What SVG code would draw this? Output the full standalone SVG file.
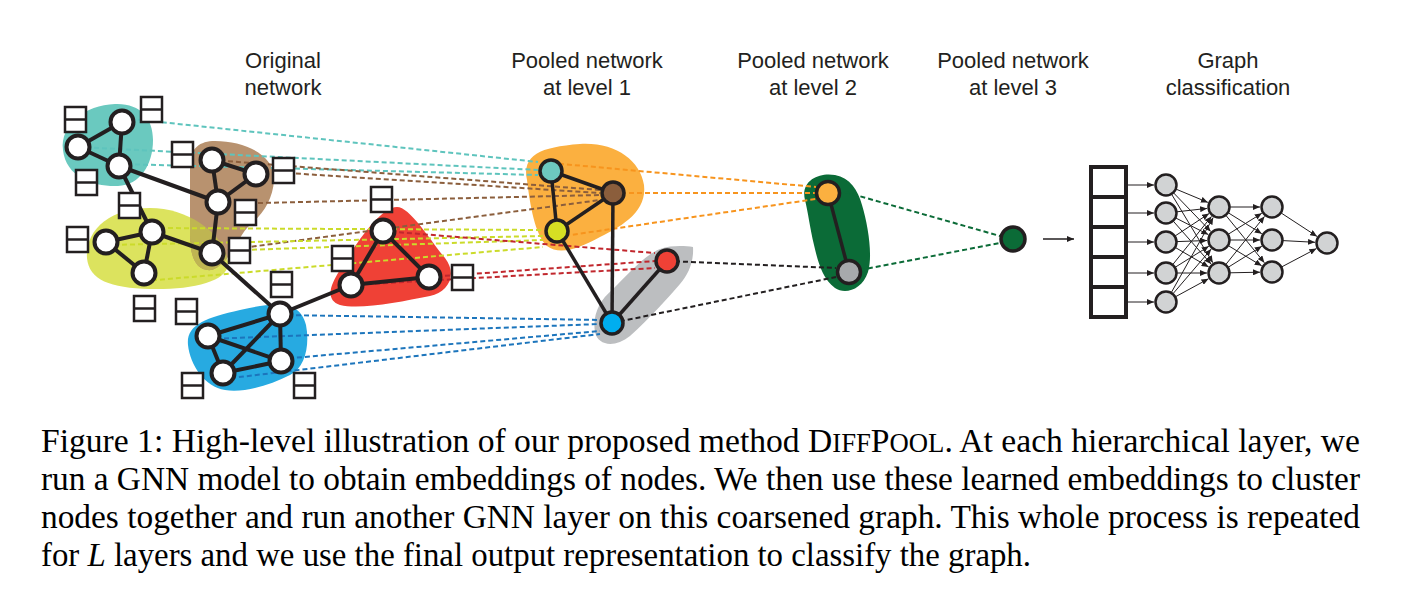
<svg xmlns="http://www.w3.org/2000/svg" width="1405" height="600" viewBox="0 0 1405 600">
<style>
.ttl{font-family:"Liberation Sans",Arial,sans-serif;font-size:22px;fill:#231f20;text-anchor:middle}
.cap{font-family:"Liberation Serif","Times New Roman",serif;font-size:34px;fill:#000}
.e{stroke:#231f20;stroke-width:4;fill:none}
.pe{stroke:#231f20;stroke-width:3.5;fill:none}
.wn{fill:#fff;stroke:#231f20;stroke-width:4}
.pn{stroke:#231f20;stroke-width:3.5}
.d{fill:none;stroke-width:2;stroke-dasharray:5 3}
.cn{fill:#d1d3d4;stroke:#231f20;stroke-width:2.5}
.ca{stroke:#231f20;stroke-width:1;fill:none;marker-end:url(#ah)}
.bx rect{fill:#fff;stroke:#231f20;stroke-width:2.5}
.bx line{stroke:#231f20;stroke-width:2.5}
</style>
<defs>
<marker id="ah" markerUnits="userSpaceOnUse" markerWidth="8" markerHeight="6" refX="7" refY="3" orient="auto">
<path d="M0,0 L7,3 L0,6 z" fill="#231f20"/>
</marker>
<g id="box" class="bx"><rect x="0" y="0" width="21" height="25"/><line x1="0" y1="12.5" x2="21" y2="12.5"/></g>
<clipPath id="yclip"><path d="M87,258 C85,230 110,208 150,208 C190,208 225,235 228,262 C230,282 190,290 150,289 C110,288 89,280 87,258 Z"/></clipPath>
</defs>
<rect width="1405" height="600" fill="#fff"/>

<g id="titles">
<text class="ttl" x="283" y="68">Original</text>
<text class="ttl" x="283" y="95">network</text>
<text class="ttl" x="587" y="68">Pooled network</text>
<text class="ttl" x="587" y="95">at level 1</text>
<text class="ttl" x="813" y="68">Pooled network</text>
<text class="ttl" x="813" y="95">at level 2</text>
<text class="ttl" x="1013" y="68">Pooled network</text>
<text class="ttl" x="1013" y="95">at level 3</text>
<text class="ttl" x="1228" y="68">Graph</text>
<text class="ttl" x="1228" y="95">classification</text>
</g>

<g id="clusters">
<path id="c-teal" d="M63,150 C60,125 85,105 115,104 C140,103 153,118 153,140 C153,165 140,185 118,186 C95,187 66,178 63,150 Z" fill="#6ac9bf"/>
<path id="c-yellow" d="M87,258 C85,230 110,208 150,208 C190,208 225,235 228,262 C230,282 190,290 150,289 C110,288 89,280 87,258 Z" fill="#dce35e"/>
<path id="c-brown" d="M190,165 C190,148 200,141 215,141 C245,141 275,155 274,180 C273,200 262,215 250,225 C238,235 232,262 212,270 C195,272 190,255 190,235 Z" fill="#b8926f"/>
<path d="M190,165 C190,148 200,141 215,141 C245,141 275,155 274,180 C273,200 262,215 250,225 C238,235 232,262 212,270 C195,272 190,255 190,235 Z" fill="#bfb552" clip-path="url(#yclip)"/>
<path id="c-red" d="M397,207 C410,207 430,240 445,258 C458,275 448,292 430,296 C400,302 360,310 340,305 C325,300 330,285 340,270 C355,245 380,207 397,207 Z" fill="#ef4136"/>
<path id="c-blue" d="M188,345 C186,325 205,318 240,310 C275,302 300,300 306,325 C310,345 305,368 290,375 C270,385 245,393 225,390 C205,387 190,365 188,345 Z" fill="#27aae1"/>
<path id="c-orange" d="M527,180 C522,155 540,147 580,144 C615,142 640,160 644,185 C647,210 625,225 600,237 C580,248 560,256 547,246 C535,235 530,205 527,180 Z" fill="#fbb040"/>
<path id="c-gray" d="M693,247 C694,262 688,275 680,284 C668,298 650,318 630,336 C615,348 598,346 595,332 C592,315 600,300 612,290 C630,272 645,255 660,249 C672,245 685,246 693,247 Z" fill="#bcbec0"/>
<path id="c-green" d="M805,200 C800,180 820,172 835,175 C850,178 858,190 862,205 C868,225 873,255 868,272 C862,290 845,295 835,288 C822,278 818,262 814,245 C810,228 808,212 805,200 Z" fill="#0b6b37"/>
</g>

<g id="connectors">
<g stroke="#5ec4bd">
<line class="d" x1="122" y1="118" x2="538" y2="162"/>
<line class="d" x1="78" y1="147" x2="538" y2="170"/>
<line class="d" x1="119" y1="164" x2="538" y2="175"/>
</g>
<g stroke="#8b5e3c">
<line class="d" x1="212" y1="160" x2="600" y2="190"/>
<line class="d" x1="256" y1="171" x2="600" y2="193"/>
<line class="d" x1="218" y1="204" x2="600" y2="195"/>
<line class="d" x1="212" y1="252" x2="600" y2="200"/>
</g>
<g stroke="#cbdb2a">
<line class="d" x1="152" y1="228" x2="543" y2="230"/>
<line class="d" x1="106" y1="245" x2="543" y2="236"/>
<line class="d" x1="212" y1="251" x2="543" y2="240"/>
<line class="d" x1="144" y1="281" x2="543" y2="247"/>
</g>
<g stroke="#c1272d">
<line class="d" x1="383" y1="231" x2="655" y2="253"/>
<line class="d" x1="429" y1="277" x2="655" y2="261"/>
<line class="d" x1="351" y1="285" x2="655" y2="268"/>
</g>
<g stroke="#1c75bc">
<line class="d" x1="280" y1="315" x2="600" y2="320"/>
<line class="d" x1="208" y1="339" x2="600" y2="324"/>
<line class="d" x1="281" y1="359" x2="600" y2="331"/>
<line class="d" x1="223" y1="379" x2="600" y2="334"/>
</g>
<g stroke="#f7941d">
<line class="d" x1="551" y1="163" x2="816" y2="187"/>
<line class="d" x1="613" y1="193" x2="816" y2="193"/>
<line class="d" x1="557" y1="237" x2="816" y2="199"/>
</g>
<g stroke="#231f20">
<line class="d" x1="667" y1="261" x2="836" y2="268"/>
<line class="d" x1="612" y1="323" x2="836" y2="277"/>
</g>
<g stroke="#0b6b37">
<line class="d" x1="845" y1="192" x2="1000" y2="236"/>
<line class="d" x1="860" y1="270" x2="1000" y2="243"/>
</g>
<g id="orig-edges">
<line class="e" x1="122" y1="122" x2="78" y2="147"/>
<line class="e" x1="122" y1="122" x2="119" y2="166"/>
<line class="e" x1="78" y1="147" x2="119" y2="166"/>
<line class="e" x1="119" y1="166" x2="218" y2="202"/>
<line class="e" x1="119" y1="166" x2="152" y2="232"/>
<line class="e" x1="212" y1="160" x2="256" y2="174"/>
<line class="e" x1="212" y1="160" x2="218" y2="202"/>
<line class="e" x1="256" y1="174" x2="218" y2="202"/>
<line class="e" x1="218" y1="202" x2="212" y2="253"/>
<line class="e" x1="106" y1="242" x2="152" y2="232"/>
<line class="e" x1="106" y1="242" x2="144" y2="273"/>
<line class="e" x1="152" y1="232" x2="144" y2="273"/>
<line class="e" x1="152" y1="232" x2="212" y2="253"/>
<line class="e" x1="212" y1="253" x2="280" y2="314"/>
<line class="e" x1="280" y1="314" x2="208" y2="336"/>
<line class="e" x1="280" y1="314" x2="223" y2="373"/>
<line class="e" x1="280" y1="314" x2="281" y2="361"/>
<line class="e" x1="208" y1="336" x2="223" y2="373"/>
<line class="e" x1="208" y1="336" x2="281" y2="361"/>
<line class="e" x1="223" y1="373" x2="281" y2="361"/>
<line class="e" x1="280" y1="314" x2="351" y2="285"/>
<line class="e" x1="383" y1="231" x2="351" y2="285"/>
<line class="e" x1="383" y1="231" x2="429" y2="277"/>
<line class="e" x1="351" y1="285" x2="429" y2="277"/>
</g>
<g id="pooled-edges">
<line class="pe" x1="551" y1="171" x2="613" y2="193"/>
<line class="pe" x1="551" y1="171" x2="557" y2="231"/>
<line class="pe" x1="613" y1="193" x2="557" y2="231"/>
<line class="pe" x1="557" y1="231" x2="612" y2="323"/>
<line class="pe" x1="613" y1="193" x2="612" y2="323"/>
<line class="pe" x1="667" y1="261" x2="612" y2="323"/>
<line class="pe" x1="828" y1="193" x2="849" y2="272"/>
</g>
<line id="to-classifier" x1="1043" y1="239" x2="1074" y2="239" stroke="#231f20" stroke-width="1.5" marker-end="url(#ah)"/>
<g id="mlp-edges">
<line class="ca" x1="1127" y1="185" x2="1154" y2="185"/>
<line class="ca" x1="1127" y1="213" x2="1154" y2="213"/>
<line class="ca" x1="1127" y1="242" x2="1154" y2="242"/>
<line class="ca" x1="1127" y1="273" x2="1154" y2="273"/>
<line class="ca" x1="1127" y1="302" x2="1154" y2="302"/>
<line class="ca" x1="1176.2" y1="189.2" x2="1207.9" y2="202.4"/>
<line class="ca" x1="1173.6" y1="192.9" x2="1210.7" y2="231.4"/>
<line class="ca" x1="1171.7" y1="194.4" x2="1212.8" y2="262.7"/>
<line class="ca" x1="1176.9" y1="211.8" x2="1207.1" y2="208.4"/>
<line class="ca" x1="1175.8" y1="218" x2="1208.3" y2="234.6"/>
<line class="ca" x1="1173.3" y1="221.2" x2="1211.1" y2="264"/>
<line class="ca" x1="1175.2" y1="235.9" x2="1209" y2="213.6"/>
<line class="ca" x1="1177" y1="241.6" x2="1207" y2="240.5"/>
<line class="ca" x1="1175.5" y1="247.6" x2="1208.6" y2="266.9"/>
<line class="ca" x1="1172.9" y1="264.4" x2="1211.5" y2="216.4"/>
<line class="ca" x1="1175.3" y1="267.2" x2="1208.8" y2="246.3"/>
<line class="ca" x1="1177" y1="273" x2="1207" y2="273"/>
<line class="ca" x1="1171.4" y1="292.4" x2="1213.2" y2="217.5"/>
<line class="ca" x1="1173.1" y1="293.6" x2="1211.2" y2="249.1"/>
<line class="ca" x1="1175.6" y1="296.7" x2="1208.5" y2="278.8"/>
<line class="ca" x1="1230" y1="207" x2="1260" y2="207"/>
<line class="ca" x1="1228.3" y1="212.8" x2="1261.8" y2="233.7"/>
<line class="ca" x1="1226" y1="215.5" x2="1264.4" y2="262.7"/>
<line class="ca" x1="1228.3" y1="234.2" x2="1261.8" y2="213.3"/>
<line class="ca" x1="1230" y1="240" x2="1260" y2="240"/>
<line class="ca" x1="1228.4" y1="245.7" x2="1261.7" y2="265.8"/>
<line class="ca" x1="1225.9" y1="264.4" x2="1264.5" y2="216.4"/>
<line class="ca" x1="1228.3" y1="267.2" x2="1261.8" y2="246.3"/>
<line class="ca" x1="1230" y1="272.8" x2="1260" y2="272.2"/>
<line class="ca" x1="1281.2" y1="213" x2="1317" y2="236.4"/>
<line class="ca" x1="1283" y1="240.6" x2="1315" y2="242.3"/>
<line class="ca" x1="1281.7" y1="266.9" x2="1316.4" y2="248.6"/>
</g>
</g>

<g id="n-T1"><circle class="wn" cx="122" cy="122" r="11.5"/><use href="#box" x="141" y="97"/></g>
<g id="n-T2"><circle class="wn" cx="78" cy="147" r="11.5"/><use href="#box" x="65" y="107"/></g>
<g id="n-T3"><circle class="wn" cx="119" cy="166" r="11.5"/><use href="#box" x="76" y="170"/></g>
<g id="n-Br1"><circle class="wn" cx="212" cy="160" r="11.5"/><use href="#box" x="172" y="142"/></g>
<g id="n-Br2"><circle class="wn" cx="256" cy="174" r="11.5"/><use href="#box" x="273" y="158"/></g>
<g id="n-Br3"><circle class="wn" cx="218" cy="202" r="11.5"/><use href="#box" x="235" y="200"/></g>
<g id="n-S"><circle class="wn" cx="212" cy="253" r="11.5"/><use href="#box" x="229" y="238"/></g>
<g id="n-Y1"><circle class="wn" cx="106" cy="242" r="11.5"/><use href="#box" x="67" y="227"/></g>
<g id="n-Y2"><circle class="wn" cx="152" cy="232" r="11.5"/><use href="#box" x="119" y="193"/></g>
<g id="n-Y3"><circle class="wn" cx="144" cy="273" r="11.5"/><use href="#box" x="134" y="296"/></g>
<g id="n-R1"><circle class="wn" cx="383" cy="231" r="11.5"/><use href="#box" x="371" y="187"/></g>
<g id="n-R2"><circle class="wn" cx="351" cy="285" r="11.5"/><use href="#box" x="332" y="246"/></g>
<g id="n-R3"><circle class="wn" cx="429" cy="277" r="11.5"/><use href="#box" x="452" y="265"/></g>
<g id="n-Bl1"><circle class="wn" cx="280" cy="314" r="11.5"/><use href="#box" x="271" y="272"/></g>
<g id="n-Bl2"><circle class="wn" cx="208" cy="336" r="11.5"/><use href="#box" x="176" y="299"/></g>
<g id="n-Bl3"><circle class="wn" cx="281" cy="361" r="11.5"/><use href="#box" x="294" y="373"/></g>
<g id="n-Bl4"><circle class="wn" cx="223" cy="373" r="11.5"/><use href="#box" x="182" y="373"/></g>

<g id="p-teal"><circle class="pn" cx="551" cy="171" r="11" fill="#6dc8bf"/></g>
<g id="p-brown"><circle class="pn" cx="613" cy="193" r="11" fill="#8b5e3c"/></g>
<g id="p-yellow"><circle class="pn" cx="557" cy="231" r="11" fill="#d7df23"/></g>
<g id="p-red"><circle class="pn" cx="667" cy="261" r="11" fill="#ef4136"/></g>
<g id="p-blue"><circle class="pn" cx="612" cy="323" r="11" fill="#00aeef"/></g>
<g id="q-orange"><circle class="pn" cx="828" cy="193" r="11.5" fill="#fbb040"/></g>
<g id="q-gray"><circle class="pn" cx="849" cy="272" r="11.5" fill="#a7a9ac"/></g>
<g id="r-green"><circle class="pn" cx="1013" cy="239" r="12" fill="#0b6b37"/></g>

<g id="vector">
<rect x="1091" y="167" width="35" height="150" fill="#fff" stroke="#231f20" stroke-width="4"/>
<line x1="1091" y1="197" x2="1126" y2="197" stroke="#231f20" stroke-width="4"/>
<line x1="1091" y1="227" x2="1126" y2="227" stroke="#231f20" stroke-width="4"/>
<line x1="1091" y1="257" x2="1126" y2="257" stroke="#231f20" stroke-width="4"/>
<line x1="1091" y1="287" x2="1126" y2="287" stroke="#231f20" stroke-width="4"/>
</g>
<g id="m-A1"><circle class="cn" cx="1166" cy="185" r="10.5"/></g>
<g id="m-A2"><circle class="cn" cx="1166" cy="213" r="10.5"/></g>
<g id="m-A3"><circle class="cn" cx="1166" cy="242" r="10.5"/></g>
<g id="m-A4"><circle class="cn" cx="1166" cy="273" r="10.5"/></g>
<g id="m-A5"><circle class="cn" cx="1166" cy="302" r="10.5"/></g>
<g id="m-B1"><circle class="cn" cx="1219" cy="207" r="10.5"/></g>
<g id="m-B2"><circle class="cn" cx="1219" cy="240" r="10.5"/></g>
<g id="m-B3"><circle class="cn" cx="1219" cy="273" r="10.5"/></g>
<g id="m-C1"><circle class="cn" cx="1272" cy="207" r="10.5"/></g>
<g id="m-C2"><circle class="cn" cx="1272" cy="240" r="10.5"/></g>
<g id="m-C3"><circle class="cn" cx="1272" cy="272" r="10.5"/></g>
<g id="m-D"><circle class="cn" cx="1327" cy="243" r="10.5"/></g>

<g id="caption">
<text class="cap" x="41" y="452" textLength="1319" lengthAdjust="spacingAndGlyphs">Figure 1: High-level illustration of our proposed method D<tspan font-size="27">IFF</tspan>P<tspan font-size="27">OOL</tspan>. At each hierarchical layer, we</text>
<text class="cap" x="41" y="490" textLength="1319" lengthAdjust="spacingAndGlyphs">run a GNN model to obtain embeddings of nodes. We then use these learned embeddings to cluster</text>
<text class="cap" x="41" y="528" textLength="1319" lengthAdjust="spacingAndGlyphs">nodes together and run another GNN layer on this coarsened graph. This whole process is repeated</text>
<text class="cap" x="41" y="566" textLength="990" lengthAdjust="spacingAndGlyphs">for <tspan font-style="italic">L</tspan> layers and we use the final output representation to classify the graph.</text>
</g>
</svg>
